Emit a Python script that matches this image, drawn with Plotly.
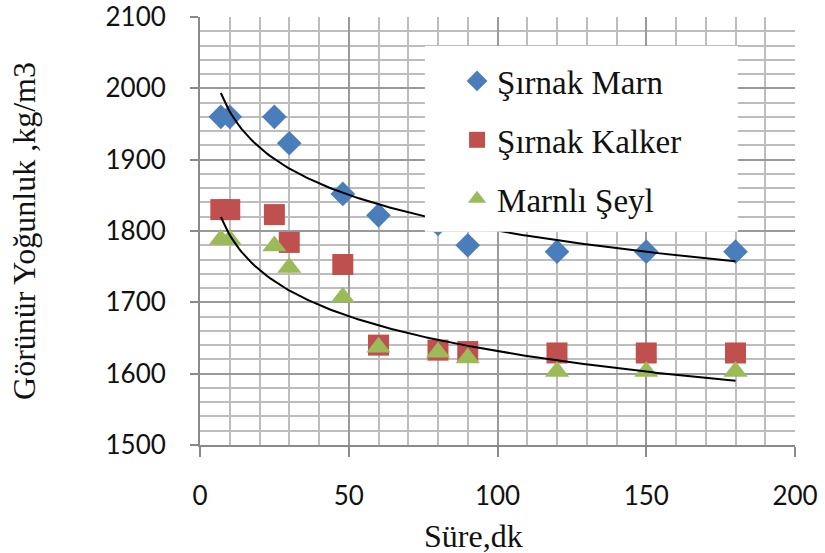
import numpy as np
import plotly.graph_objects as go

# Data
sure_dk = [7, 10, 25, 30, 48, 60, 80, 90, 120, 150, 180]
sirnak_marn = [1960, 1960, 1960, 1923, 1852, 1822, 1810, 1780, 1771, 1771, 1771]
sirnak_kalker = [1830, 1830, 1823, 1784, 1753, 1640, 1633, 1631, 1629, 1629, 1629]
marnli_seyl = [1788, 1788, 1779, 1749, 1707, 1637, 1630, 1622, 1603, 1603, 1603]

series_names = ["Şırnak Marn", "Şırnak Kalker", "Marnlı Şeyl"]
series_colors = ["#4a7ebb", "#c0504d", "#9bbb59"]
series_symbols = ["diamond", "square", "triangle-up"]
series_sizes = [19, 21, 21]
x_ticks = [0, 50, 100, 150, 200]
y_ticks = [1500, 1600, 1700, 1800, 1900, 2000, 2100]

SERIF = "Liberation Serif, Times New Roman, serif"
SANS = "Lato, Carlito, Liberation Sans, sans-serif"

fig = go.Figure()

for i, (name, vals) in enumerate(zip(series_names, [sirnak_marn, sirnak_kalker, marnli_seyl])):
    fig.add_trace(go.Scatter(
        x=sure_dk, y=vals, mode="markers", name=name,
        legendgroup=name,
        marker=dict(symbol=series_symbols[i], size=series_sizes[i], color=series_colors[i],
                    line=dict(width=0)),
    ))


def log_trend(xs, ys):
    lx = np.log(np.array(xs, dtype=float))
    b, a = np.polyfit(lx, np.array(ys, dtype=float), 1)
    xx = np.linspace(min(xs), max(xs), 200)
    return xx, a + b * np.log(xx)


for vals in [sirnak_marn, marnli_seyl]:
    tx, ty = log_trend(sure_dk, vals)
    fig.add_trace(go.Scatter(x=tx, y=ty, mode="lines", showlegend=False,
                             line=dict(color="black", width=2), hoverinfo="skip"))

fig.update_layout(
    width=825, height=553,
    margin=dict(l=200, r=30, t=17, b=108, autoexpand=False),
    paper_bgcolor="white", plot_bgcolor="white",
    showlegend=True,
    legend=dict(x=0.432, y=0.916, xanchor="left", yanchor="top",
                bgcolor="rgba(0,0,0,0)", borderwidth=0,
                font=dict(family=SERIF, size=33, color="#111"),
                tracegroupgap=13, traceorder="grouped"),
    shapes=[dict(type="rect", xref="paper", yref="paper",
                 x0=0.378, x1=0.904, y0=0.498, y1=0.932,
                 fillcolor="white", line=dict(width=0), layer="above")],
    annotations=[dict(text="Süre,dk", xref="paper", yref="paper",
                      x=0.459, y=-0.212, xanchor="center", yanchor="middle",
                      showarrow=False, font=dict(family=SERIF, size=32, color="#111"))],
)

fig.update_xaxes(
    range=[0, 200], tickvals=x_ticks, ticktext=[str(v) for v in x_ticks],
    automargin=False, ticklabeloverflow="allow",
    showgrid=True, gridcolor="#9a9a9a", gridwidth=2,
    minor=dict(dtick=10, showgrid=True, gridcolor="#bdbdbd", gridwidth=1.5),
    showline=True, linecolor="#8a8a8a", linewidth=2,
    ticks="outside", ticklen=10, tickwidth=2, tickcolor="#8a8a8a",
    ticklabelstandoff=17,
    tickfont=dict(family=SANS, size=26, color="#111"),
    zeroline=False,
)
fig.update_yaxes(
    range=[1500, 2100], tickvals=y_ticks, ticktext=[str(v) for v in y_ticks],
    automargin=False, ticklabeloverflow="allow",
    showgrid=True, gridcolor="#9a9a9a", gridwidth=2,
    minor=dict(dtick=20, showgrid=True, gridcolor="#bdbdbd", gridwidth=1.5),
    showline=True, linecolor="#8a8a8a", linewidth=2,
    ticks="outside", ticklen=8, tickwidth=2, tickcolor="#8a8a8a",
    ticklabelstandoff=19,
    tickfont=dict(family=SANS, size=26, color="#111"),
    title=dict(text="Görünür Yoğunluk ,kg/m3", font=dict(family=SERIF, size=32, color="#111"),
               standoff=60),
    zeroline=False,
)

fig.write_html("out.html", config={"displayModeBar": False},
               post_script="document.body.style.margin='0';")
